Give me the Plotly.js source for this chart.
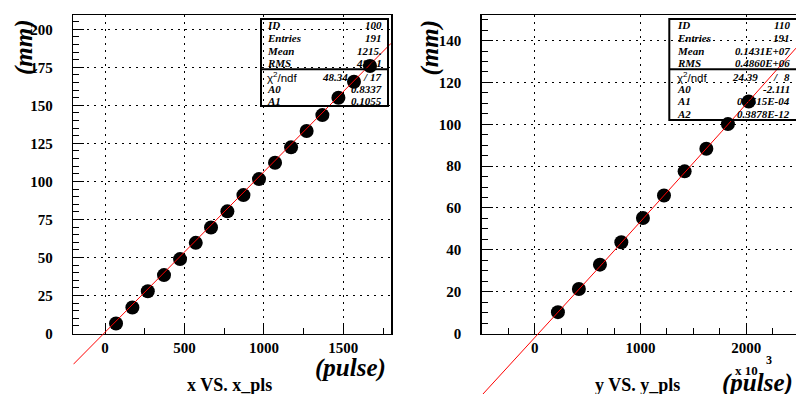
<!DOCTYPE html>
<html>
<head>
<meta charset="utf-8">
<script src="https://cdn.plot.ly/plotly-3.0.1.min.js"></script>
<style>
  html, body { margin: 0; padding: 0; background: #ffffff; }
  #chart { width: 796px; height: 394px; }
</style>
</head>
<body>
<div id="chart"></div>
<script>
// ---- x calibration: position (mm) vs. pulse count ----
const xPulse = [69, 172, 269, 371, 472, 571, 667, 770, 871, 969, 1070, 1171, 1269, 1368, 1469, 1567, 1668];
const xMm    = [6.6, 17.1, 27.8, 38.4, 48.9, 59.6, 69.7, 80.3, 91.0, 101.5, 112.3, 122.4, 133.1, 143.6, 155.0, 165.5, 175.9];

// ---- y calibration: position (mm) vs. pulse count (x 10^3) ----
const yPulseK = [220, 418, 617, 819, 1023, 1222, 1417, 1622, 1826, 2022];
const yMm     = [10.2, 21.3, 32.9, 43.6, 55.2, 66.0, 77.5, 88.3, 100.1, 110.9];

// fit parameters
const fitX = { A0: 0.8337, A1: 0.1055 };
const fitY = { A0: -2.111, A1: 0.5515e-4, A2: 0.3878e-12 };

// stats box contents
const statLabelsX = ["ID", "Entries", "Mean", "RMS"];
const statValuesX = ["100", "191", "1215.", "487.1"];
const chiX = ["48.34", "17"];
const parLabelsX = ["A0", "A1"];
const parValuesX = ["0.8337", "0.1055"];

const statLabelsY = ["ID", "Entries", "Mean", "RMS"];
const statValuesY = ["110", "191", "0.1431E+07", "0.4860E+06"];
const chiY = ["24.39", "8"];
const parLabelsY = ["A0", "A1", "A2"];
const parValuesY = ["-2.111", "0.5515E-04", "0.3878E-12"];

const xTitles = ["x VS. x_pls", "y VS. y_pls"];

// ---- page geometry (pixels) ----
const W = 796, H = 394;
const px = p => p / W;
const py = p => 1 - p / H;
const plotTop = 15.3, plotBot = 333.5;
const leftPanel  = { x0: 73.3,  x1: 391.0, xr: [-200, 1800], yr: [0, 209.2] };
const rightPanel = { x0: 481.7, x1: 796.0, xr: [-500, 2469], yr: [0, 152.1] };

// axis extension below the frame so the fit curve can run past y = 0
function extendedRange(yr) {
  const unitsPerPx = (yr[1] - yr[0]) / (plotBot - plotTop);
  return [yr[1] - unitsPerPx * (H - plotTop), yr[1]];
}

// fit curves
const lineXx = [leftPanel.xr[0], leftPanel.xr[1]];
const lineXy = lineXx.map(v => fitX.A0 + fitX.A1 * v);
const lineYx = [], lineYy = [];
for (let i = 0; i <= 80; i++) {
  const k = rightPanel.xr[0] + (rightPanel.xr[1] - rightPanel.xr[0]) * i / 80;
  const p = k * 1e3;
  lineYx.push(k);
  lineYy.push(fitY.A0 + fitY.A1 * p + fitY.A2 * p * p);
}

const serif = "Liberation Serif, Times New Roman, serif";
const sans = "Liberation Sans, Arial, sans-serif";

const markerStyle = { color: "black", size: 14, line: { width: 0 } };
const traces = [
  { x: xPulse, y: xMm, xaxis: "x", yaxis: "y", mode: "markers", type: "scatter",
    marker: markerStyle, cliponaxis: false, hoverinfo: "none" },
  { x: yPulseK, y: yMm, xaxis: "x2", yaxis: "y2", mode: "markers", type: "scatter",
    marker: markerStyle, cliponaxis: false, hoverinfo: "none" },
  { x: lineXx, y: lineXy, xaxis: "x3", yaxis: "y3", mode: "lines", type: "scatter",
    line: { color: "#ff0000", width: 1 }, hoverinfo: "none" },
  { x: lineYx, y: lineYy, xaxis: "x4", yaxis: "y4", mode: "lines", type: "scatter",
    line: { color: "#ff0000", width: 1 }, hoverinfo: "none" }
];

function xAxis(panel, anchor, dtick, minor) {
  return {
    domain: [px(panel.x0), Math.min(1, px(panel.x1))], range: panel.xr, anchor: anchor,
    dtick: dtick, tick0: 0, ticks: "inside", ticklen: 11, tickwidth: 1, tickcolor: "black",
    minor: { dtick: minor, tick0: 0, ticks: "inside", ticklen: 6, tickcolor: "black", showgrid: false },
    showgrid: true, gridcolor: "black", gridwidth: 1, griddash: "2px,5px",
    zeroline: false, showline: true, linecolor: "black", linewidth: 1.5, mirror: true,
    tickfont: { family: serif, size: 15, color: "black", weight: "bold" },
    ticklabelstandoff: 0, fixedrange: true
  };
}
function yAxis(panel, anchor, dtick, minor) {
  return {
    domain: [py(plotBot), py(plotTop)], range: panel.yr, anchor: anchor,
    dtick: dtick, tick0: 0, ticks: "inside", ticklen: 11, tickwidth: 1, tickcolor: "black",
    minor: { dtick: minor, tick0: 0, ticks: "inside", ticklen: 6, tickcolor: "black", showgrid: false },
    showgrid: true, gridcolor: "black", gridwidth: 1, griddash: "2px,5px",
    zeroline: false, showline: true, linecolor: "black", linewidth: 1.5, mirror: true,
    tickfont: { family: serif, size: 15, color: "black", weight: "bold" },
    ticklabelstandoff: 16, fixedrange: true
  };
}
function hiddenX(panel, anchor) {
  return { domain: [px(panel.x0), Math.min(1, px(panel.x1))], range: panel.xr, anchor: anchor,
           visible: false, fixedrange: true };
}
function hiddenY(panel, anchor) {
  return { domain: [0, py(plotTop)], range: extendedRange(panel.yr), anchor: anchor,
           visible: false, fixedrange: true };
}

// ---- annotations: titles and stats box text ----
const annotations = [];
function txt(x, y, text, opts) {
  annotations.push(Object.assign({
    xref: "paper", yref: "paper", x: px(x), y: py(y), text: text, showarrow: false,
    xanchor: "center", yanchor: "middle",
    font: { family: serif, size: 11, color: "black", style: "italic", weight: "bold" }
  }, opts || {}));
}

// axis titles
[[23.5, 47.5], [429, 47.5]].forEach(p =>
  txt(p[0], p[1], "(mm)", { textangle: -90,
    font: { family: serif, size: 25, color: "black", style: "italic", weight: "bold" } }));
txt(350, 368, "(pulse)", { font: { family: serif, size: 25, color: "black", style: "italic", weight: "bold" } });
txt(757.5, 383, "(pulse)", { font: { family: serif, size: 25, color: "black", style: "italic", weight: "bold" } });
txt(746, 370, "x 10", { font: { family: serif, size: 13, color: "black", weight: "bold" } });
txt(768.5, 359.5, "3", { font: { family: serif, size: 12, color: "black", weight: "bold" } });
txt(229, 385, xTitles[0], { font: { family: serif, size: 18, color: "black", weight: "bold" } });
txt(637.5, 385, xTitles[1], { font: { family: serif, size: 18, color: "black", weight: "bold" } });

// stats boxes
const rowY = [25, 37.7, 50.7, 63.3, 76.7, 88.7, 101.2, 113.8];
function statsBox(lx, rx, labels, values, chi, parLabels, parValues, chiPos) {
  labels.forEach((l, i) => {
    txt(lx, rowY[i], l, { xanchor: "left" });
    txt(rx, rowY[i], values[i], { xanchor: "right" });
  });
  txt(lx, rowY[4], "χ<sup>2</sup>/ndf", { xanchor: "left",
    font: { family: sans, size: 11.5, color: "black" } });
  txt(chiPos[0], rowY[4], chi[0], { xanchor: "right" });
  txt(chiPos[1], rowY[4], "/", { xanchor: "center" });
  txt(rx, rowY[4], chi[1], { xanchor: "right" });
  parLabels.forEach((l, i) => {
    txt(lx, rowY[5 + i], l, { xanchor: "left" });
    txt(rx, rowY[5 + i], parValues[i], { xanchor: "right" });
  });
}
statsBox(265, 383.5, statLabelsX, statValuesX, chiX, parLabelsX, parValuesX, [350, 365]);
statsBox(675, 792.3, statLabelsY, statValuesY, chiY, parLabelsY, parValuesY, [760, 775]);

// stats box frames
const boxLine = { color: "black", width: 2 };
const shapes = [
  { type: "rect", xref: "paper", yref: "paper", x0: px(261), x1: px(388), y0: py(106), y1: py(19),
    line: boxLine, fillcolor: "rgba(0,0,0,0)", layer: "above" },
  { type: "line", xref: "paper", yref: "paper", x0: px(261), x1: px(388), y0: py(69.3), y1: py(69.3),
    line: boxLine, layer: "above" },
  { type: "rect", xref: "paper", yref: "paper", x0: px(669.3), x1: px(797), y0: py(120), y1: py(19),
    line: boxLine, fillcolor: "rgba(0,0,0,0)", layer: "above" },
  { type: "line", xref: "paper", yref: "paper", x0: px(669.3), x1: px(797), y0: py(69.3), y1: py(69.3),
    line: boxLine, layer: "above" }
];

const layout = {
  width: W, height: H,
  margin: { l: 0, r: 0, t: 0, b: 0, pad: 0 },
  paper_bgcolor: "white", plot_bgcolor: "rgba(0,0,0,0)",
  showlegend: false,
  xaxis: xAxis(leftPanel, "y", 500, 250),
  yaxis: yAxis(leftPanel, "x", 25, 5),
  xaxis2: xAxis(rightPanel, "y2", 1000, 250),
  yaxis2: yAxis(rightPanel, "x2", 20, 5),
  xaxis3: hiddenX(leftPanel, "y3"),
  yaxis3: hiddenY(leftPanel, "x3"),
  xaxis4: hiddenX(rightPanel, "y4"),
  yaxis4: hiddenY(rightPanel, "x4"),
  annotations: annotations,
  shapes: shapes
};

Plotly.newPlot("chart", traces, layout, { displayModeBar: false, staticPlot: true });
</script>
</body>
</html>
